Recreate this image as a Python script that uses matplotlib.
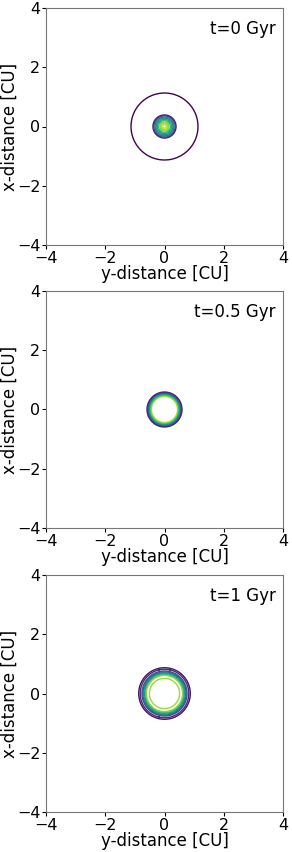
import numpy as np
import matplotlib
matplotlib.use("Agg")
import matplotlib.pyplot as plt

# contour radii [CU], with their colour position on viridis
times = ["t=0 Gyr", "t=0.5 Gyr", "t=1 Gyr"]
radii_0 = [0.05, 0.1, 0.15, 0.2, 0.24, 0.28, 0.32, 0.36, 0.39, 1.13]
cpos_0 = [0.95, 0.88, 0.8, 0.7, 0.6, 0.5, 0.38, 0.25, 0.12, 0.0]
radii_05 = [0.44, 0.47, 0.49, 0.51, 0.53, 0.55, 0.57, 0.59]
cpos_05 = [0.88, 0.8, 0.7, 0.6, 0.5, 0.38, 0.25, 0.12]
radii_1 = [0.51, 0.61, 0.64, 0.67, 0.7, 0.73, 0.76, 0.82, 0.87]
cpos_1 = [0.85, 0.85, 0.75, 0.62, 0.5, 0.38, 0.25, 0.12, 0.05]

panels = [(radii_0, cpos_0), (radii_05, cpos_05), (radii_1, cpos_1)]

plt.rcParams['font.size'] = 12
fig = plt.figure(figsize=(2.92, 8.52), dpi=100)

g = np.linspace(-4, 4, 1201)
X, Y = np.meshgrid(g, g)
R = np.hypot(X, Y)
cmap = plt.get_cmap('viridis')

tops = [8, 291, 575]
for i, (radii, cpos) in enumerate(panels):
    ax = fig.add_axes([46 / 292, 1 - (tops[i] + 237) / 852, 237 / 292, 237 / 852])
    order = np.argsort(radii)
    lv = np.array(radii)[order]
    cols = [cmap(cpos[j]) for j in order]
    ax.contour(X, Y, R, levels=lv, colors=cols, linewidths=1.0)
    ax.set_xlim(-4, 4)
    ax.set_ylim(-4, 4)
    ax.set_xticks([-4, -2, 0, 2, 4])
    ax.set_yticks([-4, -2, 0, 2, 4])
    ax.set_aspect('equal')
    ax.tick_params(length=3, pad=1, labelsize=11.5)
    ax.set_xlabel("y-distance [CU]", fontsize=12)
    ax.set_ylabel("x-distance [CU]", fontsize=12)
    ax.xaxis.set_label_coords(0.5, -0.085)
    ax.yaxis.set_label_coords(-0.115, 0.5)
    ax.text(0.97, 0.95, times[i], transform=ax.transAxes, ha='right', va='top', fontsize=12)
    for s in ax.spines.values():
        s.set_color('#777777')

fig.savefig("out.png", dpi=100)
